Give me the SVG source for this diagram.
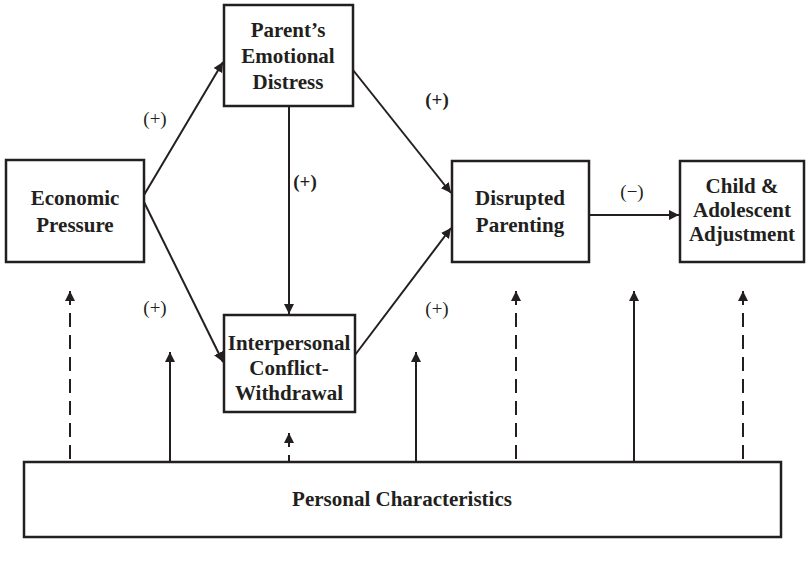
<svg xmlns="http://www.w3.org/2000/svg" width="811" height="562" viewBox="0 0 811 562">
<style>
.box{fill:#fff;stroke:#231f20;stroke-width:2.5}
.t{font-family:"Liberation Serif",serif;font-weight:bold;font-size:21px;fill:#231f20;text-anchor:middle}
.l{font-family:"Liberation Serif",serif;font-size:19px;fill:#231f20;text-anchor:middle}
.lb{font-weight:bold}
.c{stroke:#231f20;stroke-width:2;fill:none}
.d{stroke-dasharray:14,8}
</style>
<defs>
<marker id="ah" viewBox="0 0 10 10" refX="10" refY="5" markerWidth="5" markerHeight="5" orient="auto-start-reverse" markerUnits="strokeWidth">
<path d="M0,0L10,5L0,10z" fill="#231f20"/>
</marker>
</defs>
<g id="connectors">
<line class="c" x1="144" y1="195" x2="223" y2="62" marker-end="url(#ah)"/>
<line class="c" x1="144" y1="202" x2="223" y2="362" marker-end="url(#ah)"/>
<line class="c" x1="289" y1="106" x2="289" y2="314" marker-end="url(#ah)"/>
<line class="c" x1="353" y1="70" x2="451" y2="193" marker-end="url(#ah)"/>
<line class="c" x1="355" y1="355" x2="451" y2="228" marker-end="url(#ah)"/>
<line class="c" x1="589" y1="215" x2="679" y2="215" marker-end="url(#ah)"/>
<line class="c d" x1="70" y1="291" x2="70" y2="462" marker-start="url(#ah)"/>
<line class="c" x1="170" y1="352" x2="170" y2="462" marker-start="url(#ah)"/>
<line class="c d" x1="289" y1="433" x2="289" y2="462" marker-start="url(#ah)"/>
<line class="c" x1="416" y1="352" x2="416" y2="462" marker-start="url(#ah)"/>
<line class="c d" x1="516" y1="291" x2="516" y2="462" marker-start="url(#ah)"/>
<line class="c" x1="634" y1="291" x2="634" y2="462" marker-start="url(#ah)"/>
<line class="c d" x1="743" y1="291" x2="743" y2="462" marker-start="url(#ah)"/>
<text class="l" x="155" y="125">(+)</text>
<text class="l lb" x="437" y="106">(+)</text>
<text class="l lb" x="305" y="188">(+)</text>
<text class="l" x="155" y="314">(+)</text>
<text class="l" x="437" y="315">(+)</text>
<text class="l" x="632" y="198">(−)</text>
</g>
<g id="economic">
<rect class="box" x="6" y="160" width="138" height="102"/>
<text class="t" x="75" y="205">Economic</text>
<text class="t" x="75" y="232">Pressure</text>
</g>
<g id="parent">
<rect class="box" x="224" y="5" width="129" height="101"/>
<text class="t" x="288" y="37">Parent’s</text>
<text class="t" x="288" y="63">Emotional</text>
<text class="t" x="288" y="89">Distress</text>
</g>
<g id="interpersonal">
<rect class="box" x="224" y="315" width="131" height="97"/>
<text class="t" x="289" y="350">Interpersonal</text>
<text class="t" x="289" y="375">Conflict-</text>
<text class="t" x="289" y="400">Withdrawal</text>
</g>
<g id="disrupted">
<rect class="box" x="452" y="161" width="137" height="101"/>
<text class="t" x="520" y="205">Disrupted</text>
<text class="t" x="520" y="232">Parenting</text>
</g>
<g id="child">
<rect class="box" x="680" y="161" width="124" height="101"/>
<text class="t" x="742" y="193">Child &amp;</text>
<text class="t" x="742" y="217">Adolescent</text>
<text class="t" x="742" y="241">Adjustment</text>
</g>
<g id="personal">
<rect class="box" x="24" y="462" width="757" height="75"/>
<text class="t" x="402" y="506">Personal Characteristics</text>
</g>
</svg>
